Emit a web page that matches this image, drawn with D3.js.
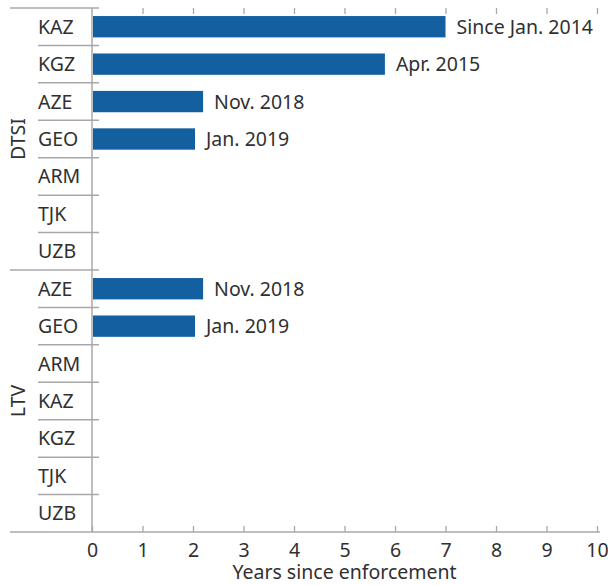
<!DOCTYPE html>
<html lang="en">
<head>
    <meta charset="UTF-8">
    <title>Years since enforcement</title>
    <script src="https://d3js.org/d3.v7.min.js"></script>
    <style>
        body {
            margin: 0;
            background: #fff;
            font-family: "Noto Sans", sans-serif;
        }
        text {
            fill: #303030;
        }
    </style>
</head>
<body>
    <svg id="chart"></svg>

    <script>
        const groups = ["DTSI", "LTV"];
        const countries = {
            DTSI: ["KAZ", "KGZ", "AZE", "GEO", "ARM", "TJK", "UZB"],
            LTV: ["AZE", "GEO", "ARM", "KAZ", "KGZ", "TJK", "UZB"]
        };
        const dtsiYears = [7.0, 5.8, 2.2, 2.04, null, null, null];
        const ltvYears = [2.2, 2.04, null, null, null, null, null];
        const dtsiLabels = ["Since Jan. 2014", "Apr. 2015", "Nov. 2018", "Jan. 2019", "", "", ""];
        const ltvLabels = ["Nov. 2018", "Jan. 2019", "", "", "", "", ""];
        const xTicks = [0, 1, 2, 3, 4, 5, 6, 7, 8, 9, 10];

        const width = 608;
        const height = 585;
        const margin = { top: 8, right: 11, bottom: 53, left: 92 };
        const gridColor = "#a8a8a8";
        const barColor = "#135f9f";
        const fontFamily = "'Noto Sans', sans-serif";
        const fontSize = 19.5;

        const rows = [];
        groups.forEach(g => {
            const vals = g === "DTSI" ? dtsiYears : ltvYears;
            const labs = g === "DTSI" ? dtsiLabels : ltvLabels;
            countries[g].forEach((c, i) => {
                rows.push({ key: g + "-" + c, group: g, country: c, value: vals[i], label: labs[i], first: i === 0 });
            });
        });

        const svg = d3.select("#chart")
            .attr("width", width)
            .attr("height", height);

        const x = d3.scaleLinear()
            .domain([0, 10])
            .range([margin.left, width - margin.right]);

        const y = d3.scaleBand()
            .domain(rows.map(d => d.key))
            .range([margin.top, height - margin.bottom])
            .paddingInner(0.43)
            .paddingOuter(0.215);

        const step = y.step();
        const rowTop = d => y(d.key) - y.paddingInner() * step / 2;

        // row separators
        svg.append("g")
            .selectAll("line")
            .data(rows)
            .join("line")
            .attr("x1", d => d.first ? 10 : 38)
            .attr("x2", margin.left + 7)
            .attr("y1", d => rowTop(d))
            .attr("y2", d => rowTop(d))
            .attr("stroke", gridColor)
            .attr("stroke-width", 1.5);

        // bottom axis
        const axis = svg.append("g")
            .attr("transform", `translate(0,${height - margin.bottom})`)
            .call(d3.axisBottom(x).tickValues(xTicks).tickSize(-6).tickPadding(11));
        axis.select(".domain").remove();
        axis.selectAll(".tick line").attr("stroke", gridColor).attr("stroke-width", 1.3);
        axis.selectAll(".tick text")
            .attr("font-size", fontSize)
            .attr("font-family", fontFamily)
            .attr("fill", "#303030");
        svg.append("line")
            .attr("x1", 10)
            .attr("x2", width - 8)
            .attr("y1", height - margin.bottom)
            .attr("y2", height - margin.bottom)
            .attr("stroke", gridColor)
            .attr("stroke-width", 1.5);

        // top ticks
        const topAxis = svg.append("g")
            .attr("transform", `translate(0,${margin.top})`)
            .call(d3.axisTop(x).tickValues(xTicks.slice(1)).tickSize(-6).tickFormat(""));
        topAxis.select(".domain").remove();
        topAxis.selectAll(".tick line").attr("stroke", gridColor).attr("stroke-width", 1.3);

        // y axis line
        svg.append("line")
            .attr("x1", x(0))
            .attr("x2", x(0))
            .attr("y1", margin.top)
            .attr("y2", height - margin.bottom)
            .attr("stroke", gridColor)
            .attr("stroke-width", 1.5);

        // bars
        const withValue = rows.filter(d => d.value != null);
        svg.append("g")
            .selectAll("rect")
            .data(withValue)
            .join("rect")
            .attr("x", x(0) + 1)
            .attr("y", d => y(d.key))
            .attr("width", d => x(d.value) - x(0) - 1)
            .attr("height", y.bandwidth())
            .attr("fill", barColor);

        svg.append("g")
            .selectAll("text")
            .data(withValue)
            .join("text")
            .attr("x", d => x(d.value) + 11)
            .attr("y", d => y(d.key) + y.bandwidth() / 2)
            .attr("dy", "0.36em")
            .attr("font-size", fontSize)
            .text(d => d.label);

        // country labels
        svg.append("g")
            .selectAll("text")
            .data(rows)
            .join("text")
            .attr("x", 38)
            .attr("y", d => y(d.key) + y.bandwidth() / 2)
            .attr("dy", "0.36em")
            .attr("font-size", fontSize)
            .text(d => d.country);

        // group labels
        groups.forEach(g => {
            const gr = rows.filter(d => d.group === g);
            const top = rowTop(gr[0]);
            const bottom = rowTop(gr[gr.length - 1]) + step;
            svg.append("text")
                .attr("transform", `translate(18,${(top + bottom) / 2}) rotate(-90)`)
                .attr("text-anchor", "middle")
                .attr("dy", "0.36em")
                .attr("font-size", fontSize)
                .text(g);
        });

        svg.append("text")
            .attr("x", (x(0) + x(10)) / 2)
            .attr("y", height - 6)
            .attr("text-anchor", "middle")
            .attr("font-size", fontSize)
            .text("Years since enforcement");
    </script>
</body>
</html>
